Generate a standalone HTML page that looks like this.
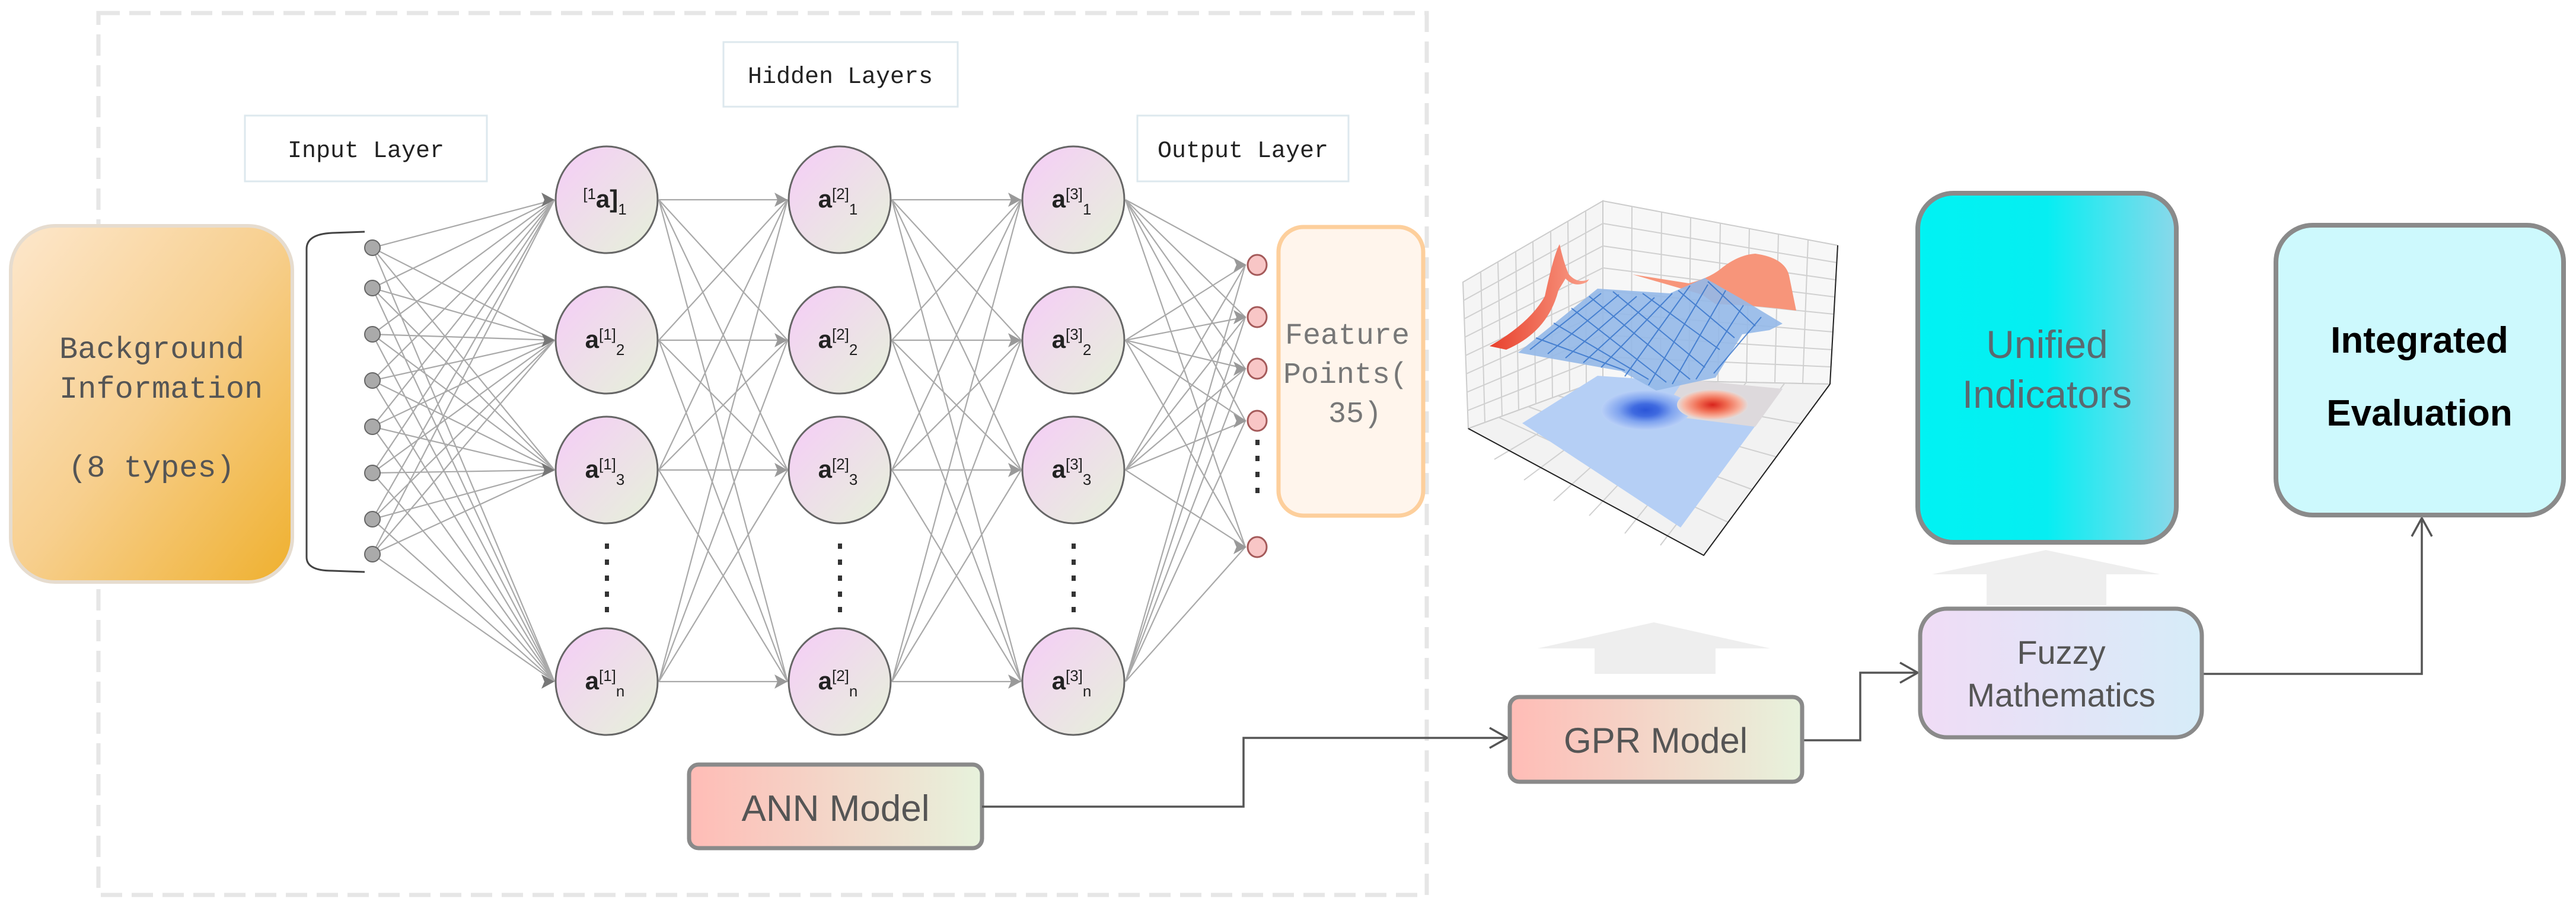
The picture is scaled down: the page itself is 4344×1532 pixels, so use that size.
<!DOCTYPE html>
<html><head><meta charset="utf-8"><style>
html,body{margin:0;padding:0;background:#fff;}
svg{display:block;}
</style></head><body>
<svg width="4344" height="1532" viewBox="0 0 4344 1532" xmlns="http://www.w3.org/2000/svg">
<defs>
<linearGradient id="bg" x1="0" y1="0" x2="1" y2="1"><stop offset="0" stop-color="#fde7cc"/><stop offset="0.5" stop-color="#f7cf8e"/><stop offset="1" stop-color="#efb02e"/></linearGradient>
<linearGradient id="nd" x1="0" y1="0" x2="1" y2="1"><stop offset="0" stop-color="#f6ccf8"/><stop offset="1" stop-color="#e5f2d9"/></linearGradient>
<linearGradient id="ann" x1="0" y1="0" x2="1" y2="0"><stop offset="0" stop-color="#ffbcb6"/><stop offset="1" stop-color="#e7f2dc"/></linearGradient>
<linearGradient id="uni" x1="0" y1="0" x2="1" y2="0"><stop offset="0" stop-color="#00f3f3"/><stop offset="0.5" stop-color="#06eef2"/><stop offset="1" stop-color="#8ad8ea"/></linearGradient>
<linearGradient id="fz" x1="0" y1="0" x2="1" y2="0"><stop offset="0" stop-color="#f0dcf6"/><stop offset="1" stop-color="#d6ecf8"/></linearGradient>
<radialGradient id="cb" cx="0.5" cy="0.5" r="0.5"><stop offset="0" stop-color="#2b55d8"/><stop offset="0.3" stop-color="#3f6ae0"/><stop offset="0.6" stop-color="#7fa3ef"/><stop offset="1" stop-color="#b9d0f7"/></radialGradient>
<radialGradient id="cr" cx="0.5" cy="0.5" r="0.5"><stop offset="0" stop-color="#d8231c"/><stop offset="0.4" stop-color="#f06a50"/><stop offset="0.8" stop-color="#f8b5a2"/><stop offset="1" stop-color="#e2dcdc"/></radialGradient>
<linearGradient id="rp" x1="0" y1="0" x2="1" y2="0"><stop offset="0" stop-color="#e8402c"/><stop offset="1" stop-color="#f9a08a"/></linearGradient>
</defs>

<rect x="166" y="22" width="2240" height="1488" fill="none" stroke="#e6e6e6" stroke-width="7" stroke-dasharray="36,16"/>

<rect x="18" y="381" width="475" height="601" rx="75" fill="url(#bg)" stroke="#e6dccf" stroke-width="6"/>
<g font-family="Liberation Mono, monospace" font-size="52" fill="#555">
<text x="100" y="604">Background</text>
<text x="100" y="671">Information</text>
<text x="115" y="804">(8 types)</text>
</g>

<path d="M615 391 L560 393 Q517 395 517 420 L517 940 Q517 963 560 963 L615 965" fill="none" stroke="#444" stroke-width="3"/>

<g font-family="Liberation Mono, monospace" font-size="40" fill="#222">
<rect x="413" y="195" width="408" height="111" fill="#fff" stroke="#dde8ee" stroke-width="3"/>
<text x="617" y="265" text-anchor="middle">Input Layer</text>
<rect x="1220" y="71" width="395" height="109" fill="#fff" stroke="#dde8ee" stroke-width="3"/>
<text x="1417" y="140" text-anchor="middle">Hidden Layers</text>
<rect x="1918" y="195" width="356" height="111" fill="#fff" stroke="#dde8ee" stroke-width="3"/>
<text x="2096" y="265" text-anchor="middle">Output Layer</text>
</g>

<g stroke="#a9a9a9" stroke-width="2.2" fill="none">
<path d="M628 418L935 337M628 418L935 574M628 418L935 793M628 418L935 1150
M628 486L935 337M628 486L935 574M628 486L935 793M628 486L935 1150
M628 564L935 337M628 564L935 574M628 564L935 793M628 564L935 1150
M628 642L935 337M628 642L935 574M628 642L935 793M628 642L935 1150
M628 720L935 337M628 720L935 574M628 720L935 793M628 720L935 1150
M628 798L935 337M628 798L935 574M628 798L935 793M628 798L935 1150
M628 876L935 337M628 876L935 574M628 876L935 793M628 876L935 1150
M628 935L935 337M628 935L935 574M628 935L935 793M628 935L935 1150"/>
<path d="M1111 337L1328 337M1111 337L1328 574M1111 337L1328 793M1111 337L1328 1150
M1111 574L1328 337M1111 574L1328 574M1111 574L1328 793M1111 574L1328 1150
M1111 793L1328 337M1111 793L1328 574M1111 793L1328 793M1111 793L1328 1150
M1111 1150L1328 337M1111 1150L1328 574M1111 1150L1328 793M1111 1150L1328 1150"/>
<path d="M1504 337L1722 337M1504 337L1722 574M1504 337L1722 793M1504 337L1722 1150
M1504 574L1722 337M1504 574L1722 574M1504 574L1722 793M1504 574L1722 1150
M1504 793L1722 337M1504 793L1722 574M1504 793L1722 793M1504 793L1722 1150
M1504 1150L1722 337M1504 1150L1722 574M1504 1150L1722 793M1504 1150L1722 1150"/>
<path d="M1898 337L2100 447M1898 337L2100 535M1898 337L2100 622M1898 337L2100 710M1898 337L2100 923
M1898 574L2100 447M1898 574L2100 535M1898 574L2100 622M1898 574L2100 710M1898 574L2100 923
M1898 793L2100 447M1898 793L2100 535M1898 793L2100 622M1898 793L2100 710M1898 793L2100 923
M1898 1150L2100 447M1898 1150L2100 535M1898 1150L2100 622M1898 1150L2100 710M1898 1150L2100 923"/>
</g>
<g fill="#777">
<path d="M935 337l-22 -12 5 12 -5 12z M935 574l-22 -12 5 12 -5 12z M935 793l-22 -12 5 12 -5 12z M935 1150l-22 -12 5 12 -5 12z"/>
</g>
<g fill="#999">
<path d="M1328 337l-22 -12 5 12 -5 12z M1328 574l-22 -12 5 12 -5 12z M1328 793l-22 -12 5 12 -5 12z M1328 1150l-22 -12 5 12 -5 12z"/>
<path d="M1722 337l-22 -12 5 12 -5 12z M1722 574l-22 -12 5 12 -5 12z M1722 793l-22 -12 5 12 -5 12z M1722 1150l-22 -12 5 12 -5 12z"/>
<path d="M2102 447l-22 -12 5 12 -5 12z M2102 535l-22 -12 5 12 -5 12z M2102 622l-22 -12 5 12 -5 12z M2102 710l-22 -12 5 12 -5 12z M2102 923l-22 -12 5 12 -5 12z"/>
</g>

<g fill="#aaa" stroke="#666" stroke-width="2">
<circle cx="628" cy="418" r="13"/><circle cx="628" cy="486" r="13"/><circle cx="628" cy="564" r="13"/><circle cx="628" cy="642" r="13"/>
<circle cx="628" cy="720" r="13"/><circle cx="628" cy="798" r="13"/><circle cx="628" cy="876" r="13"/><circle cx="628" cy="935" r="13"/>
</g>

<g fill="url(#nd)" stroke="#666" stroke-width="3">
<ellipse cx="1023" cy="337" rx="86" ry="90"/><ellipse cx="1023" cy="574" rx="86" ry="90"/><ellipse cx="1023" cy="793" rx="86" ry="90"/><ellipse cx="1023" cy="1150" rx="86" ry="90"/>
<ellipse cx="1416" cy="337" rx="86" ry="90"/><ellipse cx="1416" cy="574" rx="86" ry="90"/><ellipse cx="1416" cy="793" rx="86" ry="90"/><ellipse cx="1416" cy="1150" rx="86" ry="90"/>
<ellipse cx="1810" cy="337" rx="86" ry="90"/><ellipse cx="1810" cy="574" rx="86" ry="90"/><ellipse cx="1810" cy="793" rx="86" ry="90"/><ellipse cx="1810" cy="1150" rx="86" ry="90"/>
</g>
<g font-family="Liberation Sans, sans-serif" font-size="42" fill="#222" text-anchor="middle">
<text x="1020" y="350"><tspan font-size="26" dy="-14">[1</tspan><tspan dy="14" font-weight="bold">a]</tspan><tspan font-size="26" dy="12">1</tspan></text>
<text x="1020" y="587"><tspan font-weight="bold">a</tspan><tspan font-size="26" dy="-14">[1]</tspan><tspan font-size="26" dy="26">2</tspan></text>
<text x="1020" y="806"><tspan font-weight="bold">a</tspan><tspan font-size="26" dy="-14">[1]</tspan><tspan font-size="26" dy="26">3</tspan></text>
<text x="1020" y="1163"><tspan font-weight="bold">a</tspan><tspan font-size="26" dy="-14">[1]</tspan><tspan font-size="26" dy="26">n</tspan></text>
<text x="1413" y="350"><tspan font-weight="bold">a</tspan><tspan font-size="26" dy="-14">[2]</tspan><tspan font-size="26" dy="26">1</tspan></text>
<text x="1413" y="587"><tspan font-weight="bold">a</tspan><tspan font-size="26" dy="-14">[2]</tspan><tspan font-size="26" dy="26">2</tspan></text>
<text x="1413" y="806"><tspan font-weight="bold">a</tspan><tspan font-size="26" dy="-14">[2]</tspan><tspan font-size="26" dy="26">3</tspan></text>
<text x="1413" y="1163"><tspan font-weight="bold">a</tspan><tspan font-size="26" dy="-14">[2]</tspan><tspan font-size="26" dy="26">n</tspan></text>
<text x="1807" y="350"><tspan font-weight="bold">a</tspan><tspan font-size="26" dy="-14">[3]</tspan><tspan font-size="26" dy="26">1</tspan></text>
<text x="1807" y="587"><tspan font-weight="bold">a</tspan><tspan font-size="26" dy="-14">[3]</tspan><tspan font-size="26" dy="26">2</tspan></text>
<text x="1807" y="806"><tspan font-weight="bold">a</tspan><tspan font-size="26" dy="-14">[3]</tspan><tspan font-size="26" dy="26">3</tspan></text>
<text x="1807" y="1163"><tspan font-weight="bold">a</tspan><tspan font-size="26" dy="-14">[3]</tspan><tspan font-size="26" dy="26">n</tspan></text>
</g>
<g fill="#333">
<rect x="1020" y="917" width="7" height="9"/><rect x="1020" y="944" width="7" height="9"/><rect x="1020" y="971" width="7" height="9"/><rect x="1020" y="998" width="7" height="9"/><rect x="1020" y="1024" width="7" height="9"/>
<rect x="1413" y="917" width="7" height="9"/><rect x="1413" y="944" width="7" height="9"/><rect x="1413" y="971" width="7" height="9"/><rect x="1413" y="998" width="7" height="9"/><rect x="1413" y="1024" width="7" height="9"/>
<rect x="1807" y="917" width="7" height="9"/><rect x="1807" y="944" width="7" height="9"/><rect x="1807" y="971" width="7" height="9"/><rect x="1807" y="998" width="7" height="9"/><rect x="1807" y="1024" width="7" height="9"/>
<rect x="2117" y="742" width="7" height="9"/><rect x="2117" y="769" width="7" height="9"/><rect x="2117" y="796" width="7" height="9"/><rect x="2117" y="823" width="7" height="9"/>
</g>
<g fill="#f8c6c6" stroke="#a45a5a" stroke-width="3">
<ellipse cx="2120" cy="447" rx="16" ry="17"/><ellipse cx="2120" cy="535" rx="16" ry="17"/><ellipse cx="2120" cy="622" rx="16" ry="17"/><ellipse cx="2120" cy="710" rx="16" ry="17"/><ellipse cx="2120" cy="923" rx="16" ry="17"/>
</g>

<rect x="2156" y="383" width="244" height="487" rx="42" fill="#fff5ec" stroke="#fdcf9c" stroke-width="7"/>
<g font-family="Liberation Mono, monospace" font-size="50" fill="#777">
<text x="2167" y="580">Feature</text>
<text x="2164" y="646">Points(</text>
<text x="2240" y="712">35)</text>
</g>

<rect x="1162" y="1290" width="494" height="141" rx="16" fill="url(#ann)" stroke="#8a8a8a" stroke-width="7"/>
<text x="1409" y="1385" text-anchor="middle" font-family="Liberation Sans, sans-serif" font-size="62" fill="#555">ANN Model</text>

<g stroke="#555" stroke-width="3.5" fill="none">
<path d="M1656 1361 L2097 1361 L2097 1245 L2540 1245"/>
<path d="M2512 1228 L2542 1245 L2512 1262"/>
<path d="M3041 1249 L3137 1249 L3137 1135 L3232 1135"/>
<path d="M3204 1118 L3234 1135 L3204 1152"/>
<path d="M3715 1137 L4084 1137 L4084 875"/>
<path d="M4067 905 L4084 874 L4101 905"/>
</g>

<path d="M2689 1137 L2689 1094 L2593 1094 L2789 1050 L2985 1094 L2893 1094 L2893 1137 Z" fill="#eeeeee"/>
<path d="M3350 1021 L3350 969 L3258 969 L3450 928 L3643 969 L3552 969 L3552 1021 Z" fill="#eeeeee"/>

<rect x="2546" y="1176" width="493" height="143" rx="16" fill="url(#ann)" stroke="#8a8a8a" stroke-width="7"/>
<text x="2792" y="1270" text-anchor="middle" font-family="Liberation Sans, sans-serif" font-size="60" fill="#555">GPR Model</text>

<rect x="3238" y="1027" width="475" height="217" rx="45" fill="url(#fz)" stroke="#8a8a8a" stroke-width="7"/>
<g font-family="Liberation Sans, sans-serif" font-size="56" fill="#555" text-anchor="middle">
<text x="3476" y="1120">Fuzzy</text>
<text x="3476" y="1192">Mathematics</text>
</g>

<rect x="3234" y="326" width="436" height="589" rx="60" fill="url(#uni)" stroke="#8a8a8a" stroke-width="8"/>
<g font-family="Liberation Sans, sans-serif" font-size="66" fill="#5a6a70" text-anchor="middle">
<text x="3452" y="604">Unified</text>
<text x="3452" y="688">Indicators</text>
</g>

<rect x="3838" y="380" width="485" height="489" rx="62" fill="#cdf9fd" stroke="#8a8a8a" stroke-width="8"/>
<g font-family="Liberation Sans, sans-serif" font-size="62" font-weight="bold" fill="#000" text-anchor="middle">
<text x="4080" y="595">Integrated</text>
<text x="4080" y="718">Evaluation</text>
</g>

<!-- 3D chart -->
<g>
<polygon points="2467,476 2703,339 2703,640 2476,723" fill="#f5f5f5" stroke="#ccc" stroke-width="2"/>
<polygon points="2703,339 3099,414 3086,648 2703,640" fill="#f7f7f7" stroke="#ccc" stroke-width="2"/>
<polygon points="2476,723 2703,640 3086,648 2873,937" fill="#f2f2f2" stroke="#ccc" stroke-width="2"/>
<g stroke="#d0d0d0" stroke-width="2" fill="none">
<path d="M2468 507L2703 377M2469 538L2703 415M2470 569L2703 452M2471 600L2703 490M2472 631L2703 527M2473 662L2703 565M2474 693L2703 602"/>
<path d="M2497 459L2504 713M2526 442L2533 702M2556 425L2561 692M2585 408L2590 682M2615 390L2618 672M2644 373L2647 661M2674 356L2675 651"/>
<path d="M2703 377L3097 443M2703 415L3095 472M2703 452L3094 501M2703 490L3092 530M2703 527L3091 560M2703 565L3089 590M2703 602L3088 619"/>
<path d="M2752 348L2751 641M2802 358L2800 642M2851 367L2848 643M2901 376L2897 644M2950 386L2945 645M2999 395L2993 646M3049 405L3040 647"/>
<path d="M2527 704L2914 881M2577 686L2955 826M2628 668L2996 771M2678 649L3037 715"/>
<path d="M2520 775L2747 641M2570 810L2795 642M2620 845L2843 643M2680 870L2892 644M2740 900L2945 645M2800 920L3010 646"/>
</g>
<!-- floor contour -->
<polygon points="2567,714 2694,634 3006,656 2834,890" fill="#b5cff5"/>
<polygon points="2840,640 3006,656 2960,720 2800,700" fill="#ddd9dc"/>
<ellipse cx="2775" cy="692" rx="75" ry="34" fill="url(#cb)"/>
<ellipse cx="2888" cy="683" rx="60" ry="26" fill="url(#cr)"/>
<!-- red projections -->
<path d="M2512 584 Q2580 545 2605 500 Q2620 430 2630 412 Q2636 440 2645 462 Q2660 480 2680 471 L2676 476 Q2655 486 2640 470 L2628 490 Q2610 560 2540 590 Z" fill="url(#rp)"/>
<path d="M2753 463 L2848 478 Q2880 470 2900 455 Q2930 430 2960 428 Q3010 435 3017 465 L3029 524 Q2960 515 2893 513 L2870 497 Z" fill="#f7957a"/>
<!-- blue mesh -->
<polygon points="2560,595 2694,487 2816,495 2875,469 2938,505 3006,546 2984,557 2938,564 2893,637 2793,659 2734,626" fill="#94b8e8" opacity="0.9"/>
<g stroke="#2a6cc8" stroke-width="2" fill="none" opacity="0.75">
<path d="M2580 590L2700 495M2610 597L2730 497M2640 604L2760 500M2670 612L2790 502M2700 620L2820 495M2740 635L2850 482M2780 650L2880 480M2820 648L2910 490M2860 640L2940 515M2890 630L2970 535"/>
<path d="M2590 570L2740 625M2620 545L2780 640M2650 520L2810 645M2680 500L2850 640M2720 492L2875 620M2770 495L2900 590M2830 490L2925 570M2880 475L2960 550"/>
</g>
<g stroke="#222" stroke-width="2" fill="none"><path d="M3099 414 L3086 648 M2476 723 L2873 937 L3086 648"/></g>
</g>
</svg>
</body></html>
